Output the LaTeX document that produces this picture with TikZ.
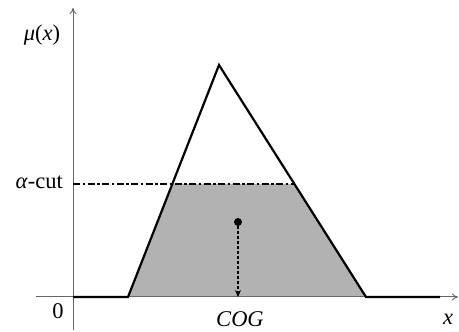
\documentclass[tikz,border=0pt]{standalone}
\usepackage{fontspec}
\setmainfont{Liberation Serif}
\usetikzlibrary{arrows.meta}
\tikzset{
  axis/.style={gray!80!black, line width=1pt},
  member/.style={black, line width=2.2pt, line join=miter},
  lbl/.style={font=\fontsize{22.5}{26}\selectfont, inner sep=0pt},
}
\begin{document}
\begin{tikzpicture}[x=1pt, y=1pt, >=Stealth]
    \useasboundingbox (0,0) rectangle (459,332);
    % 1. 关键点
    \coordinate (o) at (73,35);
    \coordinate (xl) at (36,35);
    \coordinate (xr) at (458,35);
    \coordinate (yt) at (73,324);
    \coordinate (a) at (128,35);
    \coordinate (b) at (219,267);
    \coordinate (c) at (366,35);
    \coordinate (cl) at (172.3,148);
    \coordinate (cr) at (294.4,148);
    \coordinate (g) at (238,35);

    % 2. alpha-cut 以下的灰色区域
    \fill[gray!60] (a) -- (cl) -- (cr) -- (c) -- cycle;

    % 3. 坐标轴
    \draw[axis, -{To[length=6pt, width=7pt]}] (xl) -- (xr);
    \draw[axis, -{To[length=6pt, width=7pt]}] (o |- 0,2) -- (yt);

    % 4. 隶属函数
    \draw[member] (o) -- (a) -- (b) -- (c) -- (xr -| 440,0);

    % 5. alpha-cut 虚线与重心
    \draw[dash pattern=on 7pt off 2.5pt on 2.5pt off 2.5pt, line width=1.3pt] (o |- cl) -- (cr);
    \node[circle, fill=black, inner sep=0pt, minimum size=8pt] (cog) at (238,110) {};
    \draw[dash pattern=on 3pt off 2pt, line width=1.2pt, -{Stealth[length=7pt, width=6pt]}] (cog) -- (g);

    % 6. 标签
    \node[lbl] (mu) at (42,297) {\textit{μ}(\textit{x})};
    \node[lbl, anchor=east] (alpha) at (63,150) {\textit{α}-cut};
    \node[lbl] (zero) at (58,21) {0};
    \node[lbl] (cogl) at (240,13) {\textit{COG}};
    \node[lbl] (xlab) at (448,13) {\textit{x}};
\end{tikzpicture}
\end{document}
